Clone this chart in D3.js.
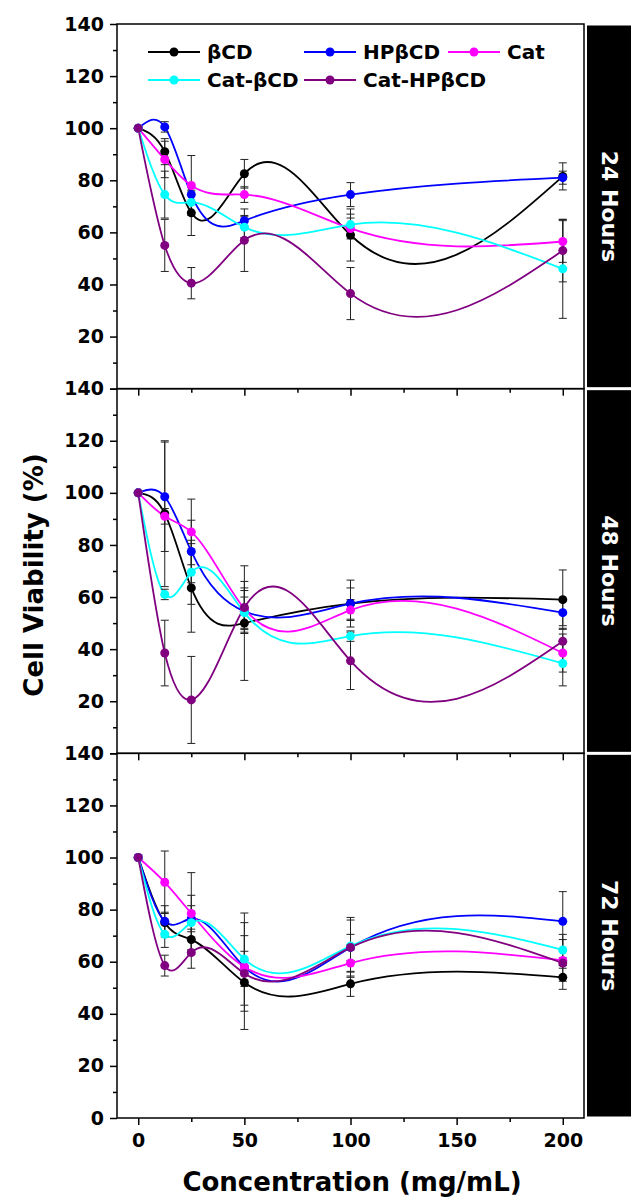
<!DOCTYPE html>
<html>
<head>
<meta charset="utf-8">
<script src="https://cdn.jsdelivr.net/npm/d3@7"></script>
<style>
body { margin: 0; background: #fff; }
text { font-family: "DejaVu Sans", sans-serif; font-weight: bold; }
</style>
</head>
<body>
<svg id="chart" width="631" height="1200"></svg>
<script>
// concentrations (mg/mL)
var conc = [0, 12.5, 25, 50, 100, 200];
var seriesNames = ["βCD", "HPβCD", "Cat", "Cat-βCD", "Cat-HPβCD"];
var seriesColors = ["#000000", "#0000ff", "#ff00ff", "#00ffff", "#800080"];
var panelLabels = ["24 Hours", "48 Hours", "72 Hours"];
var yMajor = [0, 20, 40, 60, 80, 100, 120, 140];
var yMinor = [10, 30, 50, 70, 90, 110, 130];
var xMajor = [0, 50, 100, 150, 200];
var xMinor = [25, 75, 125, 175];

// cell viability, one row per series
var mean24 = [
    [100, 91, 67.5, 82.5, 59, 81.5],
    [100, 100.5, 74.5, 64.5, 74.5, 81],
    [100, 88, 78, 74.5, 61.5, 56.5],
    [100, 74.5, 71.5, 62, 63, 46],
    [100, 55, 40.5, 57, 36.5, 53]
];
var err24 = [
    [0, 5, 8.7, 5.5, 10, 5.2],
    [0, 2, 3, 2, 4.6, 2.5],
    [0, 7, 11.5, 3, 4, 8],
    [0, 9, 4, 4, 4, 19],
    [0, 10, 6, 12, 10, 12]
];
var mean48 = [
    [100, 92, 63.5, 50, 57.5, 59],
    [100, 98.5, 77.5, 54.5, 57.5, 54],
    [100, 91, 85, 55.5, 55, 38.5],
    [100, 61, 69.5, 54, 45, 34.5],
    [100, 38.5, 20.5, 56, 35.5, 43]
];
var err48 = [
    [0, 28, 17, 22, 9, 11.4],
    [0, 21, 12, 8, 6, 5],
    [0, 3, 12.6, 8, 4, 7.3],
    [0, 2, 12.3, 6, 2, 8.6],
    [0, 12.6, 16.7, 10, 11, 5]
];
var mean72 = [
    [100, 75, 68.5, 52, 51.5, 54],
    [100, 75.5, 76.5, 58, 65.5, 75.5],
    [100, 90.5, 78.5, 58, 59.5, 60.5],
    [100, 70.5, 75, 61, 66, 64.5],
    [100, 58.5, 63.5, 55.5, 65.5, 59.5]
];
var err72 = [
    [0, 4, 4, 18, 4.8, 4.6],
    [0, 6, 5, 6, 11.5, 11.4],
    [0, 12, 15.7, 17, 5, 8],
    [0, 5, 10.5, 17.7, 10, 6],
    [0, 4, 6, 5, 5, 2]
];
var means = [mean24, mean48, mean72];
var errs = [err24, err48, err72];

var left = 117, right = 584, top0 = 24, bottom = 1118;
var panelH = (bottom - top0) / 3;

var svg = d3.select("#chart");
var x = d3.scaleLinear().domain([-10, 210]).range([left, right]);

// cubic spline y(x) through the points, like Origin's spline connector
function SplineX(context) { this._context = context; }
SplineX.prototype = {
    areaStart: function () {},
    areaEnd: function () {},
    lineStart: function () { this._px = []; this._py = []; },
    point: function (a, b) { this._px.push(+a); this._py.push(+b); },
    lineEnd: function () {
        var px = this._px, py = this._py, n = px.length, c = this._context, i;
        if (!n) return;
        c.moveTo(px[0], py[0]);
        if (n === 2) { c.lineTo(px[1], py[1]); return; }
        var h = [];
        for (i = 0; i < n - 1; i++) h.push(px[i + 1] - px[i]);
        var M = new Array(n).fill(0), a = [], b = [], cc = [], r = [];
        for (i = 1; i < n - 1; i++) {
            a[i] = h[i - 1]; b[i] = 2 * (h[i - 1] + h[i]); cc[i] = h[i];
            r[i] = 6 * ((py[i + 1] - py[i]) / h[i] - (py[i] - py[i - 1]) / h[i - 1]);
        }
        for (i = 2; i < n - 1; i++) {
            var w = a[i] / b[i - 1];
            b[i] -= w * cc[i - 1];
            r[i] -= w * r[i - 1];
        }
        M[n - 2] = r[n - 2] / b[n - 2];
        for (i = n - 3; i >= 1; i--) M[i] = (r[i] - cc[i] * M[i + 1]) / b[i];
        for (i = 0; i < n - 1; i++) {
            var s = (py[i + 1] - py[i]) / h[i];
            var m0 = s - h[i] * (2 * M[i] + M[i + 1]) / 6;
            var m1 = s + h[i] * (M[i] + 2 * M[i + 1]) / 6;
            c.bezierCurveTo(px[i] + h[i] / 3, py[i] + m0 * h[i] / 3,
                px[i + 1] - h[i] / 3, py[i + 1] - m1 * h[i] / 3, px[i + 1], py[i + 1]);
        }
    }
};
function curveSplineX(context) { return new SplineX(context); }

function styleAxis(g, fs) {
    g.select(".domain").remove();
    g.selectAll(".tick line").attr("stroke", "#000").attr("stroke-width", 1.5);
    g.selectAll(".tick text").attr("fill", "#000")
        .style("font-size", fs + "px")
        .style("font-family", "'DejaVu Sans', sans-serif")
        .style("font-weight", "bold");
}

panelLabels.forEach(function (label, p) {
    var y0 = top0 + p * panelH;
    var y = d3.scaleLinear().domain([0, 140]).range([y0 + panelH, y0]);
    var g = svg.append("g");

    // y axis
    g.append("g").attr("transform", "translate(" + left + ",0)")
        .call(d3.axisLeft(y).tickValues(yMajor).tickSize(7).tickPadding(6)
            .tickFormat(function (d) { return (d === 0 && p < 2) ? "" : d; }))
        .call(styleAxis, 19);
    g.append("g").attr("transform", "translate(" + left + ",0)")
        .call(d3.axisLeft(y).tickValues(yMinor).tickSize(4).tickFormat(""))
        .call(styleAxis, 19);

    // x axis
    g.append("g").attr("transform", "translate(0," + (y0 + panelH) + ")")
        .call(d3.axisBottom(x).tickValues(xMajor).tickSize(7).tickPadding(9)
            .tickFormat(function (d) { return p === 2 ? d : ""; }))
        .call(styleAxis, 19);
    g.append("g").attr("transform", "translate(0," + (y0 + panelH) + ")")
        .call(d3.axisBottom(x).tickValues(xMinor).tickSize(4).tickFormat(""))
        .call(styleAxis, 19);

    // frame
    g.append("rect").attr("x", left).attr("y", y0)
        .attr("width", right - left).attr("height", panelH)
        .attr("fill", "none").attr("stroke", "#000").attr("stroke-width", 1.5);

    var valueline = d3.line()
        .x(function (d, i) { return x(conc[i]); })
        .y(function (d) { return y(d); })
        .curve(curveSplineX);

    var m = means[p], e = errs[p];
    // lines
    m.forEach(function (row, s) {
        g.append("path").datum(row).attr("d", valueline)
            .attr("fill", "none").attr("stroke", seriesColors[s]).attr("stroke-width", 1.8);
    });
    // error bars
    m.forEach(function (row, s) {
        row.forEach(function (v, i) {
            var d = e[s][i];
            if (!d) return;
            var cx = x(conc[i]);
            var eb = g.append("g").attr("stroke", "#222").attr("stroke-width", 1);
            eb.append("line").attr("x1", cx).attr("x2", cx).attr("y1", y(v - d)).attr("y2", y(v + d));
            eb.append("line").attr("x1", cx - 4).attr("x2", cx + 4).attr("y1", y(v - d)).attr("y2", y(v - d));
            eb.append("line").attr("x1", cx - 4).attr("x2", cx + 4).attr("y1", y(v + d)).attr("y2", y(v + d));
        });
    });
    // markers
    m.forEach(function (row, s) {
        g.append("g").selectAll("circle").data(row).enter().append("circle")
            .attr("cx", function (d, i) { return x(conc[i]); })
            .attr("cy", function (d) { return y(d); })
            .attr("r", 4.5).attr("fill", seriesColors[s]);
    });

    // side label strip
    svg.append("rect").attr("x", 587).attr("y", y0 + 1.5)
        .attr("width", 44).attr("height", panelH - 3).attr("fill", "#000");
    svg.append("text")
        .attr("transform", "translate(609," + (y0 + panelH / 2) + ") rotate(90)")
        .attr("text-anchor", "middle").attr("dominant-baseline", "central")
        .attr("fill", "#fff").style("font-size", "22px").text(label);
});

// legend
var legendCols = [148, 304, 448];
var legendRows = [59, 87];
seriesNames.forEach(function (name, s) {
    var lx = legendCols[s % 3], ly = legendRows[Math.floor(s / 3)];
    var lg = svg.append("g");
    lg.append("line").attr("x1", lx).attr("x2", lx + 52)
        .attr("y1", ly - 7).attr("y2", ly - 7)
        .attr("stroke", seriesColors[s]).attr("stroke-width", 1.8);
    lg.append("circle").attr("cx", lx + 26).attr("cy", ly - 7).attr("r", 4.5).attr("fill", seriesColors[s]);
    lg.append("text").attr("x", lx + 59).attr("y", ly)
        .style("font-size", "20px").text(name);
});

// axis titles
svg.append("text").attr("transform", "translate(43,575) rotate(-90)")
    .attr("text-anchor", "middle").style("font-size", "26px").text("Cell Viability (%)");
svg.append("text").attr("x", 352).attr("y", 1191)
    .attr("text-anchor", "middle").style("font-size", "26px").text("Concentration (mg/mL)");
</script>
</body>
</html>
